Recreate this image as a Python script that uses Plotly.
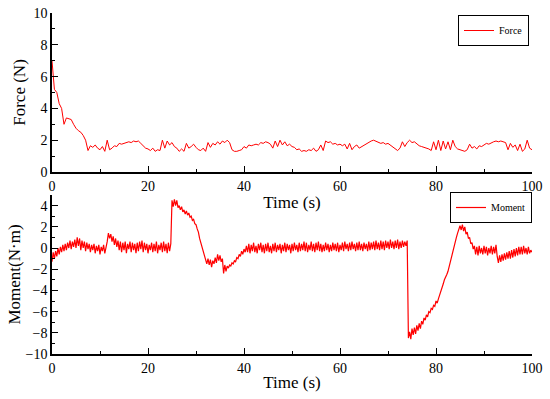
import numpy as np
import plotly.graph_objects as go

# ---------------- data ----------------
# Force (N), sampled every 0.5 s from 0 to 100 s
force_values = [
    7.0, 5.2, 5.0, 4.3, 4.0, 3.0, 3.4, 3.35, 3.3, 3.0,
    2.75, 2.6, 2.5, 2.3, 2.0, 1.35, 1.65, 1.55, 1.7, 1.5,
    1.4, 1.6, 1.3, 2.0, 1.4, 1.5, 1.65, 1.6, 1.8, 1.75,
    1.8, 1.85, 1.9, 1.85, 1.95, 1.9, 1.95, 1.8, 1.65, 1.5,
    1.45, 1.35, 1.5, 1.3, 1.4, 1.35, 2.0, 1.5, 1.95, 1.7,
    1.85, 1.6, 1.5, 1.3, 1.45, 1.3, 1.8, 1.5, 1.6, 1.75,
    1.55, 1.4, 1.35, 1.5, 1.3, 1.85, 1.55, 1.8, 1.7, 1.9,
    1.75, 1.95, 1.85, 2.0, 1.85, 1.4, 1.3, 1.3, 1.35, 1.4,
    1.6, 1.5, 1.7, 1.65, 1.7, 1.75, 1.7, 1.85, 1.8, 1.9,
    1.85, 1.75, 1.5, 1.95, 1.6, 2.0, 1.7, 1.9, 1.65, 1.75,
    1.6, 1.55, 1.4, 1.45, 1.3, 1.35, 1.3, 1.4, 1.35, 1.5,
    1.3, 1.4, 1.7, 1.35, 1.95, 1.85, 1.9, 1.75, 1.8, 1.7,
    1.75, 1.65, 1.75, 1.45, 1.8, 1.4, 1.6, 1.7, 1.5, 1.6,
    1.7, 1.8, 1.85, 1.95, 2.0, 1.95, 1.9, 1.8, 1.85, 1.75,
    1.8, 1.7, 1.6, 1.45, 1.35, 1.5, 1.9, 1.6, 1.85, 2.0,
    1.85, 1.9, 1.75, 1.65, 1.6, 1.55, 1.5, 1.45, 1.35, 1.9,
    1.4, 2.0, 1.35, 1.95, 1.45, 1.9, 1.4, 2.0, 1.6, 1.45,
    1.4, 1.35, 1.3, 1.4, 1.75, 1.5, 1.6, 1.45, 1.65, 1.6,
    1.7, 1.8, 1.75, 1.85, 1.9, 1.95, 1.9, 1.95, 1.9, 1.85,
    1.4, 1.8, 1.55, 1.7, 1.35, 1.75, 1.3, 1.45, 2.0, 1.5,
    1.4,
]

# Moment (N·m), sampled every 0.25 s, one list per 10 s block
moment_00_10 = [-1.3, -0.4, -1.0, -0.3, -0.8, 0.0, -0.6, 0.1, -0.4, 0.3,
                -0.3, 0.4, -0.2, 0.5, 0.0, 0.7, -0.1, 0.6, 0.1, 0.8,
                0.0, 1.0, 0.2, 0.9, -0.2, 0.7, 0.0, 0.6, -0.3, 0.5,
                -0.1, 0.4, -0.4, 0.3, -0.2, 0.4, -0.5, 0.2, -0.3, 0.3]
moment_10_20 = [-0.6, 0.1, -0.3, 0.3, -0.5, 0.0, 0.6, 1.4, 0.9, 1.3,
                0.6, 1.1, 0.3, 0.9, 0.1, 0.7, -0.2, 0.6, -0.4, 0.5,
                -0.2, 0.6, -0.5, 0.4, -0.1, 0.6, -0.4, 0.5, -0.2, 0.4,
                -0.5, 0.5, -0.3, 0.6, -0.1, 0.7, -0.4, 0.5, -0.2, 0.4]
moment_20_30 = [-0.5, 0.3, -0.2, 0.5, -0.4, 0.4, -0.3, 0.6, -0.5, 0.3,
                -0.2, 0.5, -0.4, 0.6, -0.3, 0.4, -0.5, 0.5, -0.3, 0.4,
                4.5, 3.9, 4.6, 4.0, 4.5, 3.8, 4.0, 3.6, 3.9, 3.4,
                3.6, 3.2, 3.5, 3.1, 3.3, 2.9, 3.0, 2.6, 2.7, 2.3]
moment_30_40 = [2.2, 1.8, 1.5, 0.9, 0.5, 0.0, -0.4, -0.8, -1.1, -1.5,
                -1.0, -1.6, -1.1, -1.8, -1.2, -1.5, -0.9, -1.4, -0.6, -1.2,
                -0.7, -1.3, -1.0, -2.4, -1.6, -2.2, -1.7, -1.9, -1.6, -1.7,
                -1.4, -1.5, -1.2, -1.3, -0.9, -1.0, -0.6, -0.8, -0.3, -0.6]
moment_40_50 = [-0.1, -0.4, 0.2, -0.4, 0.4, -0.5, 0.3, -0.3, 0.5, -0.4,
                0.2, -0.5, 0.4, -0.2, 0.5, -0.4, 0.3, -0.5, 0.4, -0.3,
                0.5, -0.4, 0.2, -0.5, 0.4, -0.3, 0.5, -0.4, 0.3, -0.2,
                0.4, -0.5, 0.3, -0.3, 0.5, -0.4, 0.4, -0.2, 0.3, -0.5]
moment_50_60 = [0.4, -0.3, 0.5, -0.2, 0.3, -0.4, 0.5, -0.3, 0.4, -0.2,
                0.6, -0.3, 0.5, -0.4, 0.3, -0.2, 0.6, -0.3, 0.4, -0.4,
                0.5, -0.2, 0.6, -0.3, 0.4, -0.4, 0.3, -0.3, 0.5, -0.2,
                0.4, -0.4, 0.3, -0.3, 0.5, -0.2, 0.4, -0.3, 0.5, -0.4]
moment_60_70 = [0.3, -0.2, 0.5, -0.3, 0.6, -0.1, 0.4, -0.3, 0.5, -0.2,
                0.6, -0.1, 0.4, -0.3, 0.5, -0.2, 0.6, -0.2, 0.4, -0.3,
                0.5, -0.1, 0.4, -0.3, 0.6, -0.2, 0.5, -0.1, 0.6, -0.2,
                0.7, -0.1, 0.5, -0.2, 0.7, -0.1, 0.6, -0.2, 0.7, 0.0]
moment_70_80 = [0.6, -0.1, 0.8, 0.0, 0.6, -0.1, 0.7, 0.0, 0.8, -0.1,
                0.6, 0.0, 0.7, 0.1, 0.6, 0.2, 0.7, -8.5, -7.9, -8.6,
                -7.6, -8.2, -7.5, -8.1, -7.3, -7.8, -7.1, -7.6, -6.9, -7.2,
                -6.6, -6.8, -6.3, -6.5, -6.0, -6.1, -5.7, -5.8, -5.4, -5.5]
moment_80_90 = [-5.0, -5.2, -4.8, -4.5, -4.1, -3.8, -3.4, -3.0, -2.8, -2.5,
                -2.2, -1.7, -1.3, -0.8, -0.4, 0.1, 0.5, 1.0, 1.4, 1.8,
                2.1, 1.7, 2.2, 1.6, 2.0, 1.3, 1.5, 0.9, 1.0, 0.4,
                0.5, -0.1, 0.2, -0.6, 0.1, -0.7, 0.2, -0.5, 0.0, -0.6]
moment_90_100 = [0.2, -0.5, 0.1, -0.7, 0.0, -0.5, 0.2, -0.6, 0.1, -0.5,
                 0.3, -0.8, -1.4, -0.7, -1.3, -0.6, -1.2, -0.5, -1.1, -0.4,
                 -1.0, -0.3, -1.0, -0.2, -0.9, -0.1, -0.8, 0.0, -0.7, 0.1,
                 -0.6, 0.1, -0.6, 0.2, -0.5, 0.0, -0.6, 0.1, -0.5, -0.2,
                 -0.4]

x_ticks = [0, 20, 40, 60, 80, 100]
force_ticks = [0, 2, 4, 6, 8, 10]
moment_ticks = [-10, -8, -6, -4, -2, 0, 2, 4]

# ---------------- time bases ----------------
force_t = np.linspace(0, 100, len(force_values))
blocks = [moment_00_10, moment_10_20, moment_20_30, moment_30_40, moment_40_50,
          moment_50_60, moment_60_70, moment_70_80, moment_80_90, moment_90_100]
moment_t, moment_v = [], []
for i, blk in enumerate(blocks):
    n = len(blk) if i < 9 else len(blk) - 1
    start = 10 * i
    for j, v in enumerate(blk):
        moment_t.append(start + 10 * j / n)
        moment_v.append(v)

# ---------------- figure ----------------
FONT = "Liberation Serif"
RED = "#ff0000"

fig = go.Figure()
fig.add_trace(go.Scatter(x=force_t, y=force_values, mode="lines", name="Force",
                         line=dict(color=RED, width=1), xaxis="x", yaxis="y",
                         legend="legend"))
fig.add_trace(go.Scatter(x=moment_t, y=moment_v, mode="lines", name="Moment",
                         line=dict(color=RED, width=1.2), xaxis="x2", yaxis="y2",
                         legend="legend2"))

minor_common = dict(ticks="inside", ticklen=3, tickwidth=1.2, tickcolor="black", showgrid=False)
axis_common = dict(
    showline=True, linecolor="black", linewidth=1.5, mirror=False,
    showgrid=False, zeroline=False,
    ticks="inside", ticklen=6, tickwidth=1.2, tickcolor="black",
    tickfont=dict(family=FONT, size=14, color="black"),
    automargin=False, ticklabeloverflow="allow",
)
xcommon = dict(axis_common, range=[0, 100], tickmode="array", tickvals=x_ticks,
               minor=dict(minor_common, dtick=10, tick0=0))

W, H = 550, 399
ML, MR, MT, MB = 52, 18, 13, 45
PW = W - ML - MR  # 480
PH = H - MT - MB  # 341
top_dom = [1 - 159 / PH, 1.0]
bot_dom = [0.0, 1 - 182 / PH]
title_font = dict(family=FONT, size=17, color="black")

fig.update_layout(
    width=W, height=H,
    margin=dict(l=ML, r=MR, t=MT, b=MB),
    paper_bgcolor="white", plot_bgcolor="white",
    font=dict(family=FONT, color="black"),
    xaxis=dict(xcommon, domain=[0, 1], anchor="y",
               title=dict(text="Time (s)", font=title_font, standoff=4)),
    yaxis=dict(axis_common, domain=top_dom, anchor="x", range=[0, 10],
               tickmode="array", tickvals=force_ticks,
               minor=dict(minor_common, dtick=1, tick0=0),
               title=dict(text="Force (N)", font=title_font, standoff=4)),
    xaxis2=dict(xcommon, domain=[0, 1], anchor="y2",
                title=dict(text="Time (s)", font=title_font, standoff=2)),
    yaxis2=dict(axis_common, domain=bot_dom, anchor="x2", range=[-10, 5],
                tickmode="array", tickvals=moment_ticks,
                minor=dict(minor_common, dtick=1, tick0=0),
                title=dict(text="Moment(N·m)", font=title_font, standoff=1)),
    legend=dict(x=(529 - ML) / PW, y=1 - (15 - MT) / PH, xanchor="right", yanchor="top",
                bgcolor="white", bordercolor="black", borderwidth=1,
                font=dict(family=FONT, size=10, color="black"), itemwidth=30,
                tracegroupgap=0),
    legend2=dict(x=1.0, y=1 - (192 - MT) / PH, xanchor="right", yanchor="top",
                 bgcolor="white", bordercolor="black", borderwidth=1,
                 font=dict(family=FONT, size=10, color="black"), itemwidth=30,
                 tracegroupgap=0),
    showlegend=True,
)

fig.write_html("out.html", config={"displayModeBar": False},
               post_script="document.body.style.margin='0';document.body.style.padding='0';")
